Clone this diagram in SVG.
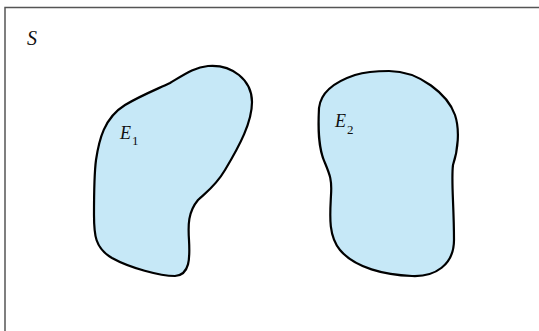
<svg xmlns="http://www.w3.org/2000/svg" width="539" height="331" viewBox="0 0 539 331">
<style>
.frame{fill:none;stroke:#555;stroke-width:1.5}
.set{fill:#c6e8f7;stroke:#000;stroke-width:2.2;stroke-linejoin:round}
.lbl{font-family:"Liberation Serif","DejaVu Serif",serif;font-style:italic;fill:#111}
.sub{font-family:"Liberation Serif","DejaVu Serif",serif;font-size:13px;fill:#111}
</style>
<rect width="539" height="331" fill="#fff"/>
<g id="sample-space">
<path class="frame" d="M5,331 V7.5 H539"/>
<text class="lbl" x="27" y="45" font-size="20">S</text>
</g>
<g id="E1">
<path class="set" d="M208,66 C232,64 252,80 252,102 C252,122 240,145 225,170 C215,187 205,193 198,200 C188,212 188,225 189,240 C190,258 190,275 175,276 C160,276 130,268 112,258 C95,248 94,235 94,215 C94,195 94,175 96,160 C99,140 104,118 125,105 C140,96 155,90 170,83 C185,74 195,67 208,66 Z"/>
<text class="lbl" x="120" y="139" font-size="18">E</text>
<text class="sub" x="132" y="145">1</text>
</g>
<g id="E2">
<path class="set" d="M389,71 C420,71 448,95 455,115 C460,130 458,150 453,165 C451,180 454,205 454,240 C454,265 435,277 412,276 C385,275 355,268 340,250 C328,235 330,215 331,195 C332,180 330,175 325,163 C318,148 318,128 319,108 C321,90 340,80 355,75 C368,71 378,71 389,71 Z"/>
<text class="lbl" x="335" y="127" font-size="18">E</text>
<text class="sub" x="347" y="134">2</text>
</g>
<g id="connectors"></g>
</svg>
